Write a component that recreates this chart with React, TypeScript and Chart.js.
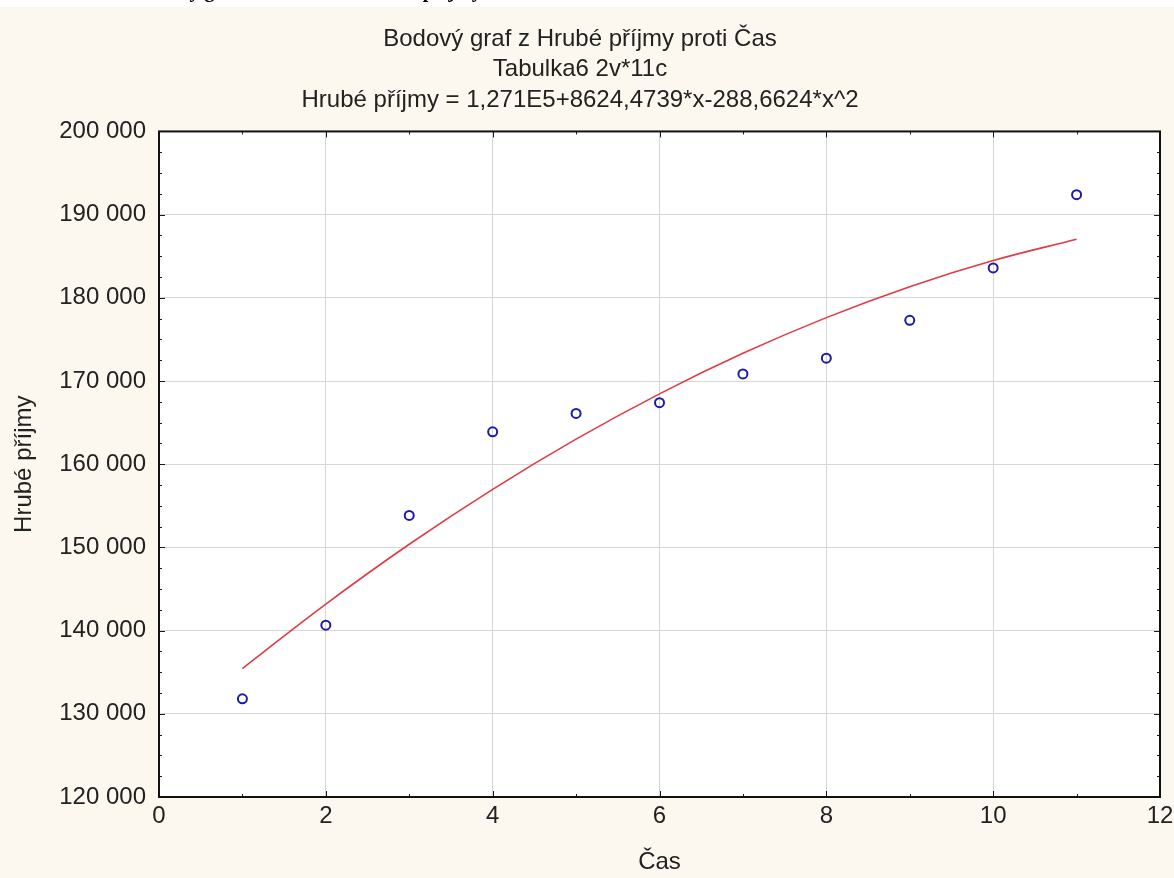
import React, { useEffect, useRef } from "react";
import { Chart, registerables } from "chart.js";

Chart.register(...registerables);

// ---- data ----
const casValues = [1, 2, 3, 4, 5, 6, 7, 8, 9, 10, 11];
const hrubePrijmy = [131800, 140650, 153850, 163900, 166100, 167400, 170850, 172750, 177300, 183600, 192400];
const fitCas = [1, 2, 3, 4, 5, 6, 7, 8, 9, 10, 11];
const fitPrijmy = [135440, 143190, 150380, 156980, 163010, 168460, 173330, 177620, 181340, 184480, 187040];
const xMajorTicks = [0, 2, 4, 6, 8, 10, 12];
const xMinorTicks = [1, 3, 5, 7, 9, 11];
const yMajorTicks = [120000, 130000, 140000, 150000, 160000, 170000, 180000, 190000, 200000];
const yMinorStep = 2500;
const titleLines = [
  "Bodový graf z Hrubé příjmy proti Čas",
  "Tabulka6 2v*11c",
  "Hrubé příjmy = 1,271E5+8624,4739*x-288,6624*x^2",
];
const xTitle = "Čas";
const yTitle = "Hrubé příjmy";
const headingText = "Bodový graf – časová řada hrubé příjmy";

const FONT = "'Liberation Sans', Arial, sans-serif";
const TEXT = "#222222";
const CREAM = "#fcf8ef";

const fmt = (v: number) => String(v).replace(/\B(?=(\d{3})+(?!\d))/g, " ");

const framePlugin = {
  id: "framePlugin",
  beforeDraw(chart: any) {
    const { ctx, chartArea } = chart;
    ctx.save();
    ctx.fillStyle = CREAM;
    ctx.fillRect(0, 7, chart.width, chart.height - 7);
    ctx.fillStyle = "#ffffff";
    ctx.fillRect(0, 0, chart.width, 7);
    ctx.fillRect(chartArea.left, chartArea.top, chartArea.right - chartArea.left, chartArea.bottom - chartArea.top);
    ctx.restore();
  },
  beforeDatasetsDraw(chart: any) {
    const { ctx, chartArea } = chart;
    const xs = chart.scales.x;
    const ys = chart.scales.y;
    const { left, right, top, bottom } = chartArea;
    ctx.save();
    ctx.strokeStyle = "#1a1a1a";
    ctx.lineWidth = 1;
    const line = (x1: number, y1: number, x2: number, y2: number) => {
      ctx.beginPath();
      ctx.moveTo(x1, y1);
      ctx.lineTo(x2, y2);
      ctx.stroke();
    };
    xMajorTicks.forEach((v) => {
      const p = Math.round(xs.getPixelForValue(v)) + 0.5;
      line(p, bottom, p, bottom - 6);
      line(p, top, p, top + 6);
    });
    xMinorTicks.forEach((v) => {
      const p = Math.round(xs.getPixelForValue(v)) + 0.5;
      line(p, bottom, p, bottom - 3);
      line(p, top, p, top + 3);
    });
    const yMin = yMajorTicks[0];
    const yMax = yMajorTicks[yMajorTicks.length - 1];
    for (let v = yMin; v <= yMax; v += yMinorStep) {
      const major = v % 10000 === 0;
      const len = major ? 6 : 3;
      const p = Math.round(ys.getPixelForValue(v)) + 0.5;
      line(left, p, left + len, p);
      line(right, p, right - len, p);
    }
    ctx.lineWidth = 2;
    ctx.strokeStyle = "#111111";
    ctx.strokeRect(left, top, right - left, bottom - top);
    ctx.restore();
  },
};

export default function App() {
  const canvasRef = useRef<HTMLCanvasElement | null>(null);

  useEffect(() => {
    document.body.style.margin = "0";
    const canvas = canvasRef.current;
    if (!canvas) return;
    const chart = new Chart(canvas, {
      type: "scatter",
      data: {
        datasets: [
          {
            label: "Hrubé příjmy",
            data: casValues.map((x, i) => ({ x, y: hrubePrijmy[i] })),
            pointStyle: "circle",
            pointRadius: 4.5,
            pointBorderWidth: 2,
            pointBorderColor: "#1c1ca8",
            pointBackgroundColor: "rgba(255,255,255,0)",
            showLine: false,
            order: 1,
          },
          {
            label: "Fit",
            type: "line",
            data: fitCas.map((x, i) => ({ x, y: fitPrijmy[i] })),
            borderColor: "#e23a44",
            borderWidth: 1.6,
            pointRadius: 0,
            tension: 0.4,
            fill: false,
            order: 2,
          },
        ],
      },
      options: {
        responsive: false,
        animation: false,
        layout: { padding: { top: 0, left: 0, right: 14, bottom: 0 } },
        plugins: {
          legend: { display: false },
          tooltip: { enabled: false },
          title: {
            display: true,
            text: titleLines,
            color: TEXT,
            font: { family: FONT, size: 24, weight: "normal", lineHeight: 1.27 },
            padding: { top: 24, bottom: 16 },
          },
        },
        scales: {
          x: {
            type: "linear",
            min: 0,
            max: 12,
            afterFit(scale: any) {
              scale.height = 81;
              scale.paddingLeft = 0;
              scale.paddingRight = 0;
            },
            ticks: {
              stepSize: 2,
              color: TEXT,
              font: { family: FONT, size: 24 },
              padding: 5,
            },
            grid: { color: "#d6d6d6", lineWidth: 1, drawTicks: false },
            border: { display: false },
            title: {
              display: true,
              text: xTitle,
              color: TEXT,
              font: { family: FONT, size: 24 },
              padding: { top: 0, bottom: 1 },
            },
          },
          y: {
            type: "linear",
            min: 120000,
            max: 200000,
            afterFit(scale: any) {
              scale.width = 159;
              scale.paddingTop = 0;
              scale.paddingBottom = 0;
            },
            ticks: {
              stepSize: 10000,
              color: TEXT,
              font: { family: FONT, size: 24 },
              padding: 13,
              callback: (v: any) => fmt(Number(v)),
            },
            grid: { color: "#d6d6d6", lineWidth: 1, drawTicks: false },
            border: { display: false },
            title: {
              display: true,
              text: yTitle,
              color: TEXT,
              font: { family: FONT, size: 24 },
              padding: { top: 10, bottom: 0 },
            },
          },
        },
      },
      plugins: [framePlugin],
    } as any);
    return () => chart.destroy();
  }, []);

  return (
    <div style={{ position: "absolute", left: 0, top: 0, width: 1174, height: 878, overflow: "hidden" }}>
      <canvas ref={canvasRef} width={1174} height={878} style={{ display: "block", width: 1174, height: 878 }} />
      <div
        style={{
          position: "absolute",
          left: 0,
          top: 0,
          width: 1174,
          height: 7,
          overflow: "hidden",
        }}
      >
        <div
          style={{
            position: "absolute",
            left: 135,
            top: -20,
            whiteSpace: "nowrap",
            fontFamily: "'Liberation Serif', 'Times New Roman', serif",
            fontWeight: "bold",
            fontSize: 20,
            lineHeight: "20px",
            color: "#000",
          }}
        >
          {headingText}
        </div>
      </div>
    </div>
  );
}
